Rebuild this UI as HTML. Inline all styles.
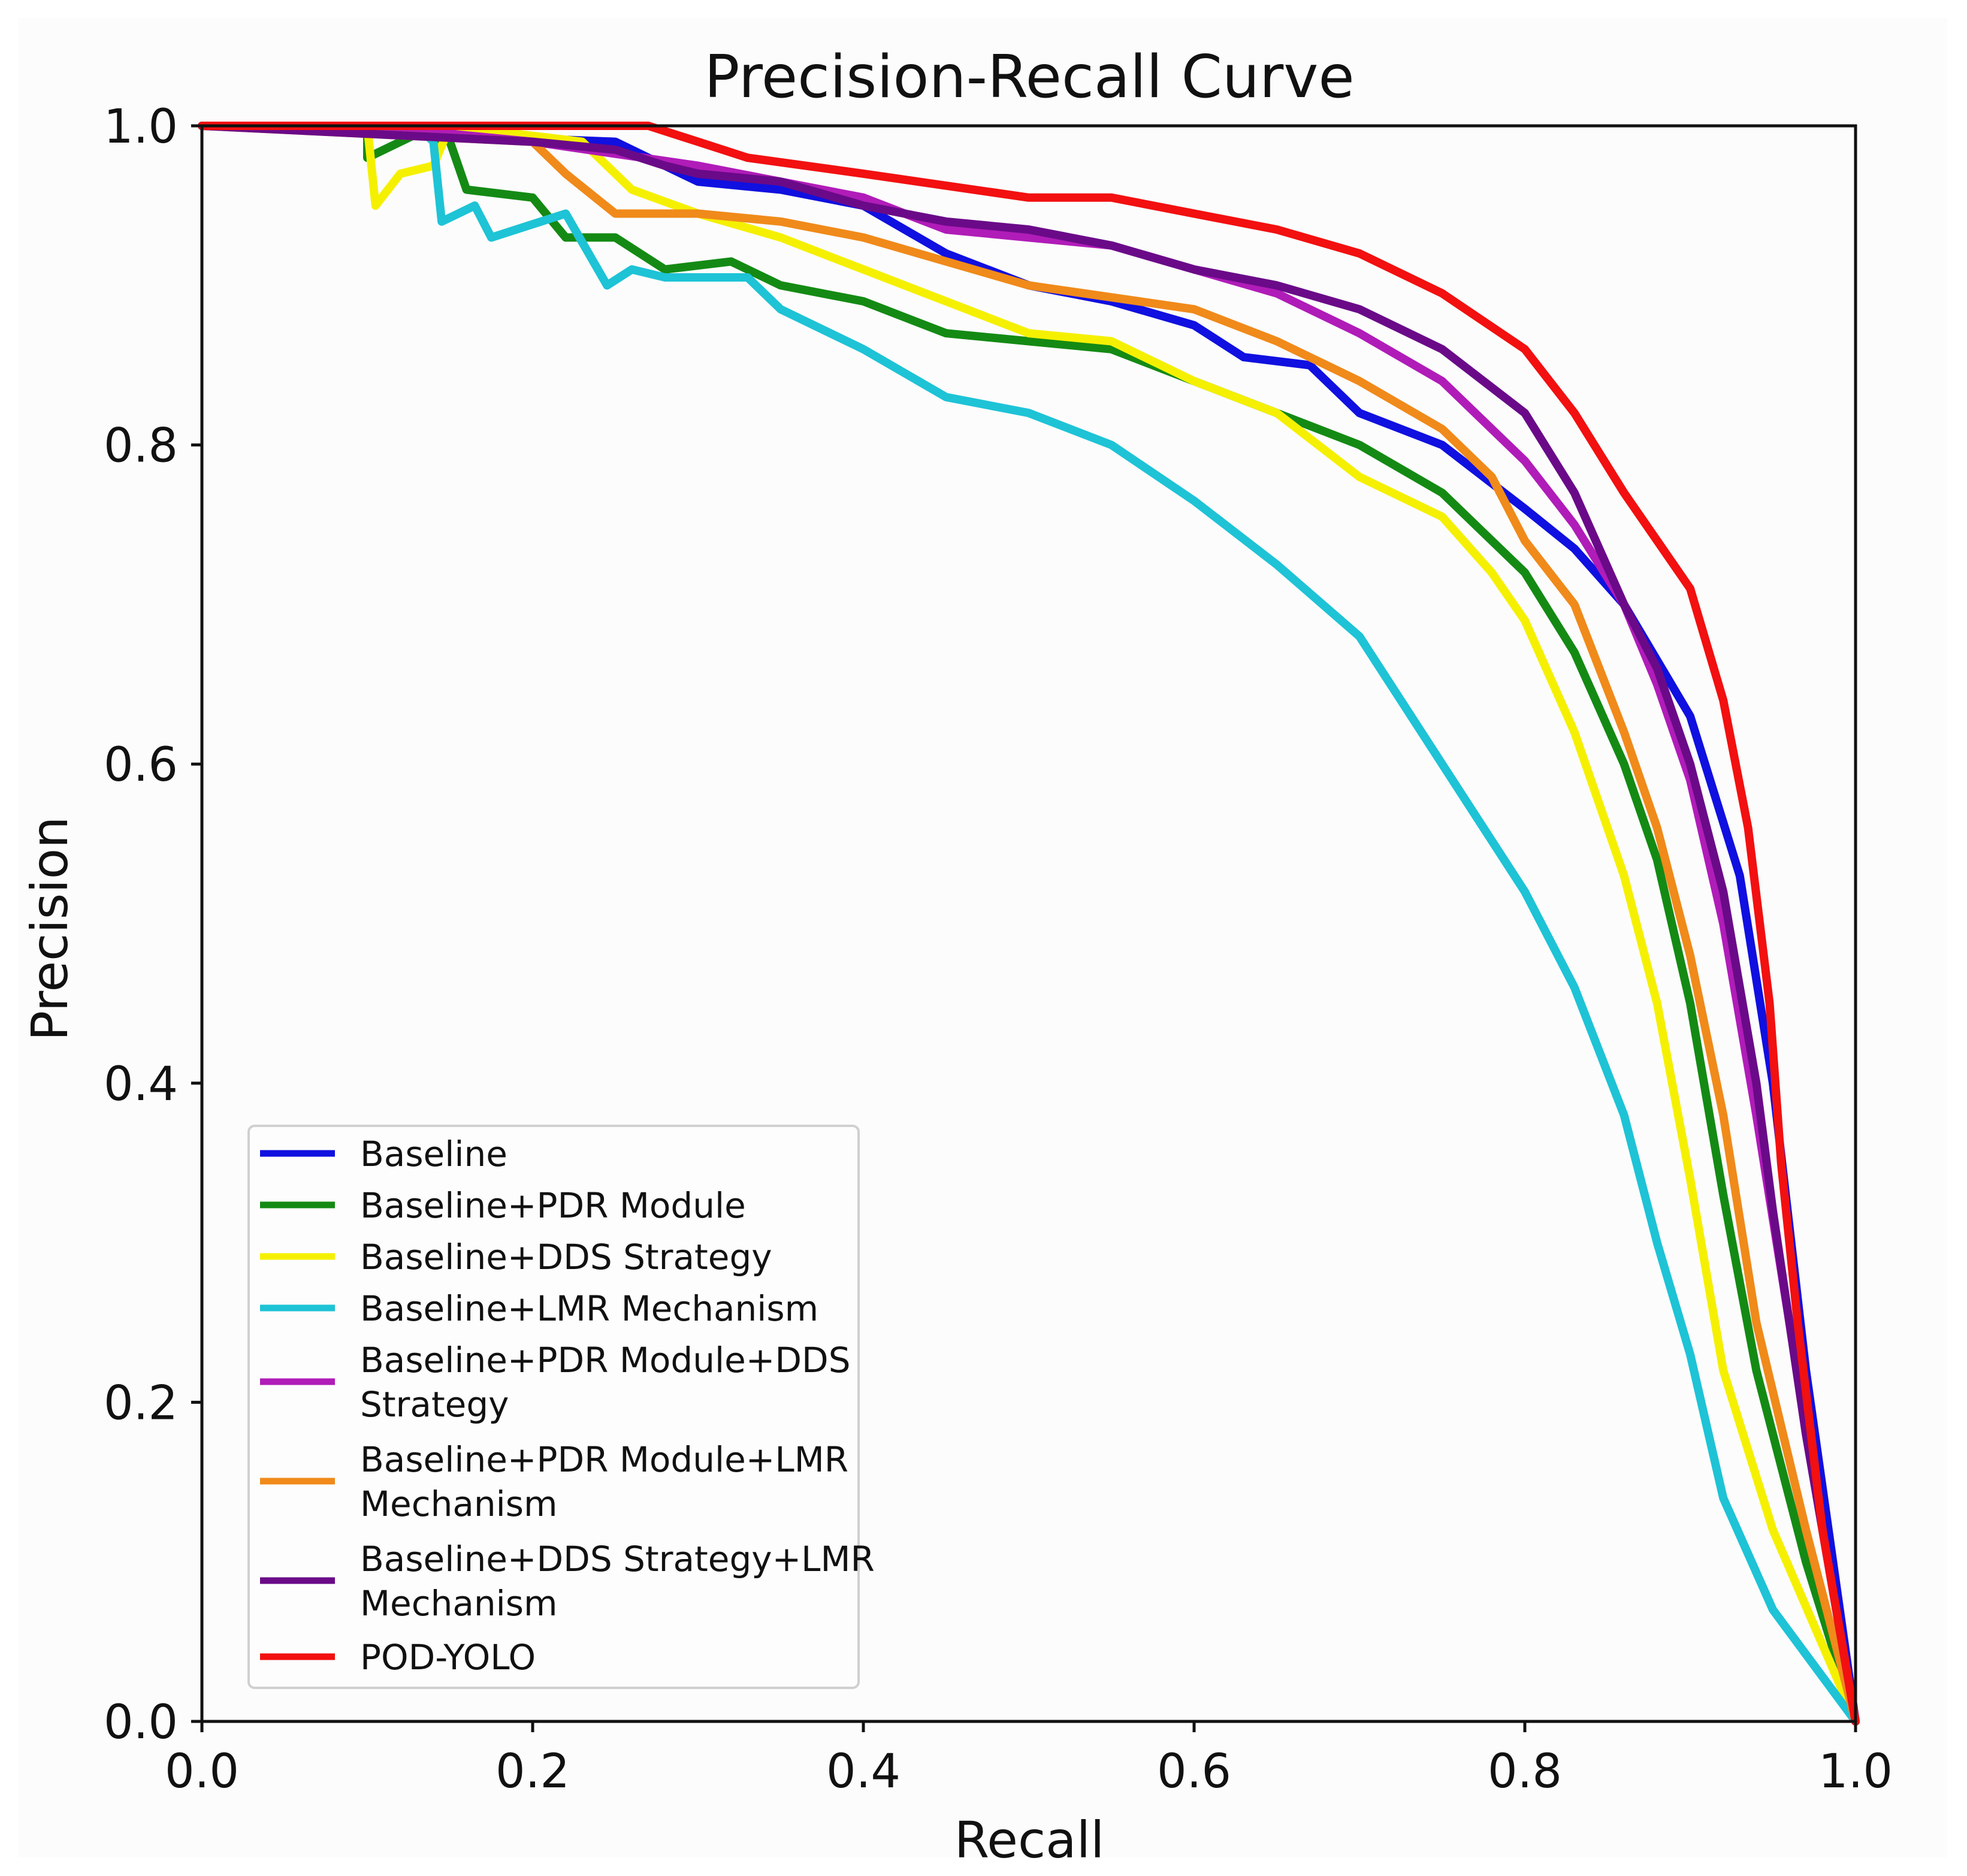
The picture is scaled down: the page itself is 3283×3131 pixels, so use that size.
<!DOCTYPE html>
<html><head><meta charset="utf-8"><style>
html,body{margin:0;padding:0;background:#fff}
svg{display:block}
text{font-family:"DejaVu Sans","Liberation Sans",sans-serif;fill:#111}
</style></head><body>
<svg id="chart" width="3283" height="3131" viewBox="0 0 3283 3131" xmlns="http://www.w3.org/2000/svg">
<rect x="30" y="30" width="3220" height="3070" fill="#fcfcfc"/>
<text x="1718" y="162" font-size="98" text-anchor="middle">Precision-Recall Curve</text>
<text x="1718" y="3100" font-size="84" text-anchor="middle">Recall</text>
<text x="0" y="0" font-size="84" text-anchor="middle" transform="translate(112,1550) rotate(-90)">Precision</text>
<g id="series"></g>
<g id="axes"></g>
<g id="legend"></g>
</svg>
<script>
const seriesNames = ["Baseline","Baseline+PDR Module","Baseline+DDS Strategy","Baseline+LMR Mechanism","Baseline+PDR Module+DDS Strategy","Baseline+PDR Module+LMR Mechanism","Baseline+DDS Strategy+LMR Mechanism","POD-YOLO"];
const seriesColors = ["#1010e0","#148a14","#f5f000","#1ec3d6","#b01cb8","#f08a1a","#6a0a88","#f21010"];
const xTicks = [0,0.2,0.4,0.6,0.8,1.0];
const yTicks = [0,0.2,0.4,0.6,0.8,1.0];
const tickLabels = ["0.0","0.2","0.4","0.6","0.8","1.0"];
const baselineRecall = [0,0.25,0.27,0.3,0.35,0.4,0.45,0.5,0.55,0.6,0.63,0.67,0.7,0.75,0.8,0.83,0.86,0.9,0.93,0.95,0.97,1];
const baselinePrecision = [1,0.99,0.98,0.965,0.96,0.95,0.92,0.9,0.89,0.875,0.855,0.85,0.82,0.8,0.76,0.735,0.7,0.63,0.53,0.4,0.22,0];
const pdrRecall = [0,0.1,0.1,0.13,0.15,0.16,0.2,0.22,0.25,0.28,0.32,0.35,0.4,0.45,0.5,0.55,0.6,0.65,0.7,0.75,0.78,0.8,0.83,0.86,0.88,0.9,0.92,0.94,0.97,1];
const pdrPrecision = [1,1,0.98,0.995,0.99,0.96,0.955,0.93,0.93,0.91,0.915,0.9,0.89,0.87,0.865,0.86,0.84,0.82,0.8,0.77,0.74,0.72,0.67,0.6,0.54,0.45,0.33,0.22,0.1,0];
const ddsRecall = [0,0.1,0.105,0.12,0.14,0.15,0.23,0.26,0.3,0.35,0.4,0.45,0.5,0.55,0.6,0.65,0.7,0.75,0.78,0.8,0.83,0.86,0.88,0.9,0.92,0.95,1];
const ddsPrecision = [1,1,0.95,0.97,0.975,1,0.99,0.96,0.945,0.93,0.91,0.89,0.87,0.865,0.84,0.82,0.78,0.755,0.72,0.69,0.62,0.53,0.45,0.34,0.22,0.12,0];
const lmrRecall = [0,0.13,0.14,0.145,0.165,0.175,0.22,0.245,0.26,0.28,0.33,0.35,0.4,0.45,0.5,0.55,0.6,0.65,0.7,0.75,0.8,0.83,0.86,0.88,0.9,0.92,0.95,1];
const lmrPrecision = [1,1,0.99,0.94,0.95,0.93,0.945,0.9,0.91,0.905,0.905,0.885,0.86,0.83,0.82,0.8,0.765,0.725,0.68,0.6,0.52,0.46,0.38,0.3,0.23,0.14,0.07,0];
const pdrDdsRecall = [0,0.1,0.2,0.3,0.4,0.45,0.5,0.55,0.6,0.65,0.7,0.75,0.8,0.83,0.86,0.88,0.9,0.92,0.94,0.96,0.98,1];
const pdrDdsPrecision = [1,1,0.99,0.975,0.955,0.935,0.93,0.925,0.91,0.895,0.87,0.84,0.79,0.75,0.7,0.65,0.59,0.5,0.38,0.25,0.12,0];
const pdrLmrRecall = [0,0.2,0.22,0.25,0.3,0.35,0.4,0.5,0.6,0.65,0.7,0.75,0.78,0.8,0.83,0.86,0.88,0.9,0.92,0.94,0.97,1];
const pdrLmrPrecision = [1,0.99,0.97,0.945,0.945,0.94,0.93,0.9,0.885,0.865,0.84,0.81,0.78,0.74,0.7,0.62,0.56,0.48,0.38,0.25,0.12,0];
const ddsLmrRecall = [0,0.2,0.25,0.28,0.3,0.35,0.4,0.45,0.5,0.55,0.6,0.65,0.7,0.75,0.8,0.83,0.86,0.88,0.9,0.92,0.94,0.95,0.97,1];
const ddsLmrPrecision = [1,0.99,0.985,0.975,0.97,0.965,0.95,0.94,0.935,0.925,0.91,0.9,0.885,0.86,0.82,0.77,0.7,0.66,0.6,0.52,0.4,0.32,0.18,0];
const podRecall = [0,0.27,0.3,0.33,0.4,0.5,0.55,0.6,0.65,0.7,0.75,0.8,0.83,0.86,0.88,0.9,0.92,0.935,0.948,0.955,0.965,0.98,1];
const podPrecision = [1,1,0.99,0.98,0.97,0.955,0.955,0.945,0.935,0.92,0.895,0.86,0.82,0.77,0.74,0.71,0.64,0.56,0.45,0.35,0.25,0.12,0];

const recallSeries = [baselineRecall,pdrRecall,ddsRecall,lmrRecall,pdrDdsRecall,pdrLmrRecall,ddsLmrRecall,podRecall];
const precisionSeries = [baselinePrecision,pdrPrecision,ddsPrecision,lmrPrecision,pdrDdsPrecision,pdrLmrPrecision,ddsLmrPrecision,podPrecision];

const L=337,R=3097,T=210,B=2873;
const NS="http://www.w3.org/2000/svg";
function xs(v){return L+(R-L)*v;}
function ys(v){return B-(B-T)*v;}
function mk(tag,attrs,parent){const e=document.createElementNS(NS,tag);for(const k in attrs)e.setAttribute(k,attrs[k]);parent.appendChild(e);return e;}

const sg=document.getElementById('series');
const seriesKeys=["baseline","pdr","dds","lmr","pdr-dds","pdr-lmr","dds-lmr","pod-yolo"];
for(let i=0;i<recallSeries.length;i++){
  const d=recallSeries[i].map((r,j)=>(j?'L':'M')+xs(r).toFixed(1)+' '+ys(precisionSeries[i][j]).toFixed(1)).join(' ');
  const p=mk('path',{d:d,fill:'none',stroke:seriesColors[i],'stroke-width':14,'stroke-linejoin':'round','stroke-linecap':'round'},sg);
  
  
}
const ag=document.getElementById('axes');
const frame=mk('rect',{x:L,y:T,width:R-L,height:B-T,fill:'none',stroke:'#111','stroke-width':5},ag);


xTicks.forEach((v,i)=>{
  const t=mk('line',{x1:xs(v),x2:xs(v),y1:B,y2:B+18,stroke:'#111','stroke-width':5},ag);
  
  
  const tx=mk('text',{x:xs(v),y:B+110,'font-size':78,'text-anchor':'middle'},ag);
  tx.textContent=tickLabels[i];
  
  
});
yTicks.forEach((v,i)=>{
  const t=mk('line',{x1:L-18,x2:L,y1:ys(v),y2:ys(v),stroke:'#111','stroke-width':5},ag);
  
  
  const tx=mk('text',{x:L-40,y:ys(v)+28,'font-size':78,'text-anchor':'end'},ag);
  tx.textContent=tickLabels[i];
  
  
});
const lg=document.getElementById('legend');
const box=mk('rect',{x:415,y:1879,width:1018,height:938,rx:10,fill:'#fdfdfd',stroke:'#d0d0d0','stroke-width':4},lg);


const rows=[[1925],[2011],[2097],[2183],[2269,2343],[2435,2509],[2601,2675],[2765]];
const labelLines=[["Baseline"],["Baseline+PDR Module"],["Baseline+DDS Strategy"],["Baseline+LMR Mechanism"],["Baseline+PDR Module+DDS","Strategy"],["Baseline+PDR Module+LMR","Mechanism"],["Baseline+DDS Strategy+LMR","Mechanism"],["POD-YOLO"]];
for(let i=0;i<seriesNames.length;i++){
  const ys0=rows[i];const cy=(ys0[0]+ys0[ys0.length-1])/2;
  const h=mk('line',{x1:434,x2:559,y1:cy,y2:cy,stroke:seriesColors[i],'stroke-width':11},lg);
  
  
  labelLines[i].forEach((s,j)=>{
    const t=mk('text',{x:601,y:ys0[j]+21,'font-size':58},lg);
    t.textContent=s;
    
    
  });
}
</script>
</body></html>
